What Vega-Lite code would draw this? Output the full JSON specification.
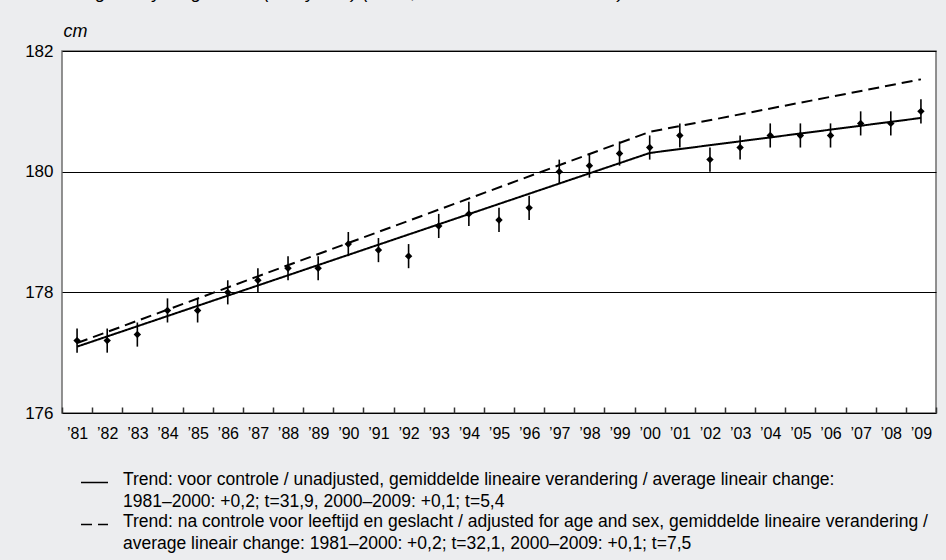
{
  "$schema": "https://vega.github.io/schema/vega-lite/v6.json",
  "width": 874,
  "height": 362,
  "autosize": {"type": "none"},
  "padding": {"left": 62, "top": 51, "right": 10, "bottom": 147},
  "background": "#ECEDEF",
  "title": {
    "text": "Average body length men (25+ years) (trend, 95% confidence interval)",
    "anchor": "start", "orient": "top", "frame": "group", "offset": 10, "dx": -14, "dy": 4,
    "baseline": "alphabetic", "font": "Liberation Sans", "fontSize": 18.5,
    "fontStyle": "italic", "fontWeight": "normal", "color": "#000"
  },
  "config": {
    "view": {"stroke": "#6e6e6e", "strokeWidth": 1.5, "fill": "white"},
    "font": "Liberation Sans"
  },
  "datasets": {
    "points": [
      {"year": 1981, "value": 177.2, "lo": 177.0, "hi": 177.4},
      {"year": 1982, "value": 177.2, "lo": 177.0, "hi": 177.4},
      {"year": 1983, "value": 177.3, "lo": 177.1, "hi": 177.5},
      {"year": 1984, "value": 177.7, "lo": 177.5, "hi": 177.9},
      {"year": 1985, "value": 177.7, "lo": 177.5, "hi": 177.9},
      {"year": 1986, "value": 178.0, "lo": 177.8, "hi": 178.2},
      {"year": 1987, "value": 178.2, "lo": 178.0, "hi": 178.4},
      {"year": 1988, "value": 178.4, "lo": 178.2, "hi": 178.6},
      {"year": 1989, "value": 178.4, "lo": 178.2, "hi": 178.6},
      {"year": 1990, "value": 178.8, "lo": 178.6, "hi": 179.0},
      {"year": 1991, "value": 178.7, "lo": 178.5, "hi": 178.9},
      {"year": 1992, "value": 178.6, "lo": 178.4, "hi": 178.8},
      {"year": 1993, "value": 179.1, "lo": 178.9, "hi": 179.3},
      {"year": 1994, "value": 179.3, "lo": 179.1, "hi": 179.5},
      {"year": 1995, "value": 179.2, "lo": 179.0, "hi": 179.4},
      {"year": 1996, "value": 179.4, "lo": 179.2, "hi": 179.6},
      {"year": 1997, "value": 180.0, "lo": 179.8, "hi": 180.2},
      {"year": 1998, "value": 180.1, "lo": 179.9, "hi": 180.3},
      {"year": 1999, "value": 180.3, "lo": 180.1, "hi": 180.5},
      {"year": 2000, "value": 180.4, "lo": 180.2, "hi": 180.6},
      {"year": 2001, "value": 180.6, "lo": 180.4, "hi": 180.8},
      {"year": 2002, "value": 180.2, "lo": 180.0, "hi": 180.4},
      {"year": 2003, "value": 180.4, "lo": 180.2, "hi": 180.6},
      {"year": 2004, "value": 180.6, "lo": 180.4, "hi": 180.8},
      {"year": 2005, "value": 180.6, "lo": 180.4, "hi": 180.8},
      {"year": 2006, "value": 180.6, "lo": 180.4, "hi": 180.8},
      {"year": 2007, "value": 180.8, "lo": 180.6, "hi": 181.0},
      {"year": 2008, "value": 180.8, "lo": 180.6, "hi": 181.0},
      {"year": 2009, "value": 181.0, "lo": 180.8, "hi": 181.2}
    ],
    "trend": [
      {"year": 1981, "series": "unadjusted", "value": 177.1},
      {"year": 2000, "series": "unadjusted", "value": 180.31},
      {"year": 2009, "series": "unadjusted", "value": 180.89},
      {"year": 1981, "series": "adjusted", "value": 177.16},
      {"year": 2000, "series": "adjusted", "value": 180.66},
      {"year": 2009, "series": "adjusted", "value": 181.53}
    ]
  },
  "layer": [
    {
      "data": {"name": "points"},
      "mark": {"type": "rule", "color": "black", "strokeWidth": 1.6},
      "encoding": {
        "x": {
          "field": "year", "type": "ordinal", "bandPosition": 0.5,
          "scale": {"type": "band", "paddingInner": 0, "paddingOuter": 0,
            "domain": [1981,1982,1983,1984,1985,1986,1987,1988,1989,1990,1991,1992,1993,1994,1995,1996,1997,1998,1999,2000,2001,2002,2003,2004,2005,2006,2007,2008,2009]},
          "axis": {
            "title": null, "tickBand": "extent", "domain": false,
            "ticks": true, "tickSize": -6, "tickColor": "#333", "tickWidth": 1.5,
            "labelPadding": 18, "labelFontSize": 16, "labelColor": "#000", "labelAngle": 0,
            "labelFont": "Liberation Sans",
            "labelExpr": "datum.value >= 1981 ? '\u2019' + substring(datum.label, 2, 4) : ''", "grid": false
          }
        },
        "y": {
          "field": "lo", "type": "quantitative",
          "scale": {"domain": [176, 182], "nice": false, "zero": false},
          "axis": {
            "values": [176, 178, 180, 182], "format": "d", "domain": false, "ticks": false,
            "grid": true, "gridColor": "#000", "gridWidth": 1, "gridOpacity": 1,
            "labelPadding": 9, "labelFontSize": 17, "labelColor": "#000", "labelFont": "Liberation Sans",
            "title": "cm", "titleAngle": 0, "titleAlign": "left", "titleBaseline": "alphabetic",
            "titleX": 1, "titleY": -15, "titleFontStyle": "italic", "titleFontWeight": "normal",
            "titleFontSize": 18, "titleColor": "#000", "titleFont": "Liberation Sans"
          }
        },
        "y2": {"field": "hi"}
      }
    },
    {
      "data": {"name": "points"},
      "mark": {"type": "point", "shape": "diamond", "filled": true, "color": "black", "size": 55, "opacity": 1},
      "encoding": {
        "x": {"field": "year", "type": "ordinal", "bandPosition": 0.5},
        "y": {"field": "value", "type": "quantitative"}
      }
    },
    {
      "data": {"name": "trend"},
      "mark": {"type": "line", "color": "black", "strokeWidth": 2},
      "encoding": {
        "x": {"field": "year", "type": "ordinal", "bandPosition": 0.5},
        "y": {"field": "value", "type": "quantitative"},
        "strokeDash": {
          "field": "series", "type": "nominal",
          "scale": {"domain": ["unadjusted", "adjusted"], "range": [[1, 0], [11, 6]]},
          "legend": {
            "orient": "none", "legendX": 18, "legendY": 417, "title": null, "padding": 0,
            "symbolType": "stroke", "symbolSize": 729, "symbolStrokeWidth": 1.5,
            "symbolStrokeColor": "black", "labelFontSize": 17.5, "labelFont": "Liberation Sans",
            "labelColor": "#000", "labelOffset": 14, "labelLimit": 900, "rowPadding": -3,
            "labelExpr": "datum.value == 'unadjusted' ? ['Trend: voor controle / unadjusted, gemiddelde lineaire verandering / average lineair change:', '1981\u20132000: +0,2; t=31,9, 2000\u20132009: +0,1; t=5,4'] : ['Trend: na controle voor leeftijd en geslacht / adjusted for age and sex, gemiddelde lineaire verandering /', 'average lineair change: 1981\u20132000: +0,2; t=32,1, 2000\u20132009: +0,1; t=7,5']",
            "encode": {"labels": {"update": {"lineHeight": {"value": 22}, "dy": {"value": -3}}}}
          }
        }
      }
    }
  ]
}
